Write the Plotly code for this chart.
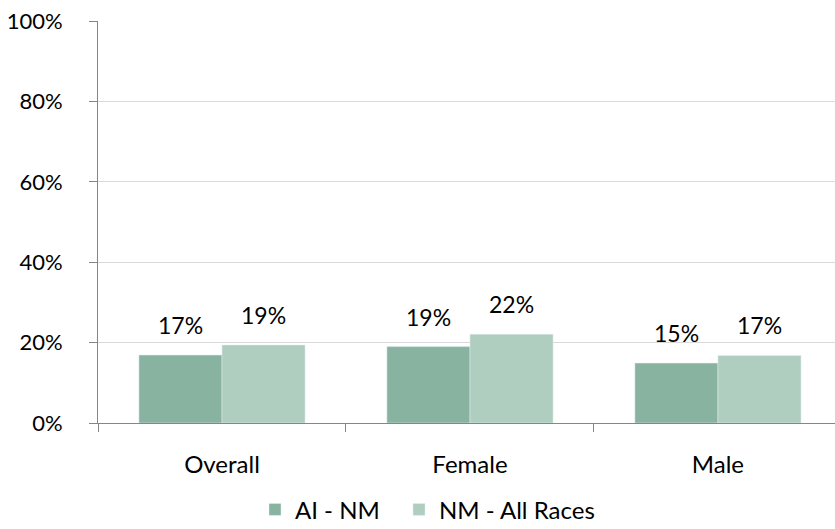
import plotly.graph_objects as go

categories = ["Overall", "Female", "Male"]
ai_nm = [16.9, 19.0, 14.9]
nm_all = [19.4, 22.1, 16.8]
ai_labels = ["17%", "19%", "15%"]
nm_labels = ["19%", "22%", "17%"]
y_ticks = [0, 20, 40, 60, 80, 100]

font = "Lato, Open Sans, sans-serif"
fsize = 24

fig = go.Figure()
fig.add_trace(go.Bar(name="AI - NM", x=categories, y=ai_nm, marker_color="#88B3A0",
                     legend="legend", showlegend=True))
fig.add_trace(go.Bar(name="NM - All Races", x=categories, y=nm_all, marker_color="#B0CEC0",
                     legend="legend2", showlegend=True))

# value labels above each bar (offset left/right by half a bar width)
for vals, labels, shift in [(ai_nm, ai_labels, -41.5), (nm_all, nm_labels, 41.5)]:
    for cat, v, lab in zip(categories, vals, labels):
        fig.add_annotation(x=cat, y=v, text=lab, showarrow=False, xshift=shift,
                           yanchor="bottom", yshift=14, font=dict(size=23, color="black"))

# one legend per series so the gap between the two entries can be set
leg = dict(orientation="h", y=-0.216, yanchor="middle", xanchor="left",
           font=dict(size=fsize), itemwidth=30, visible=True)
fig.update_layout(
    width=835, height=529,
    margin=dict(l=98, r=0, t=21, b=106, autoexpand=False),
    barmode="group", bargap=0.33, bargroupgap=0,
    paper_bgcolor="white", plot_bgcolor="white",
    font=dict(family=font, size=fsize, color="black"),
    showlegend=True,
    legend=dict(leg, x=(255 - 98) / 737),
    legend2=dict(leg, x=(399 - 98) / 737),
)
fig.update_yaxes(range=[0, 100], tickvals=y_ticks, ticktext=[f"{v}%" for v in y_ticks],
                 tickfont=dict(size=22),
                 showgrid=True, gridcolor="#D9D9D9", showline=True, linecolor="#868686",
                 ticks="outside", ticklen=8, tickcolor="#868686", zeroline=False,
                 ticklabelstandoff=22, automargin=False)
fig.update_xaxes(range=[-0.5, 2.472], showline=True, linecolor="#868686",
                 tickson="boundaries", ticks="outside", ticklen=8, tickcolor="#868686",
                 ticklabelstandoff=20, automargin=False)

# the page body has a default 8px margin; remove it so the figure fills the window
fig.write_html("out.html", config={"displayModeBar": False},
               post_script="document.body.style.margin='0';")
